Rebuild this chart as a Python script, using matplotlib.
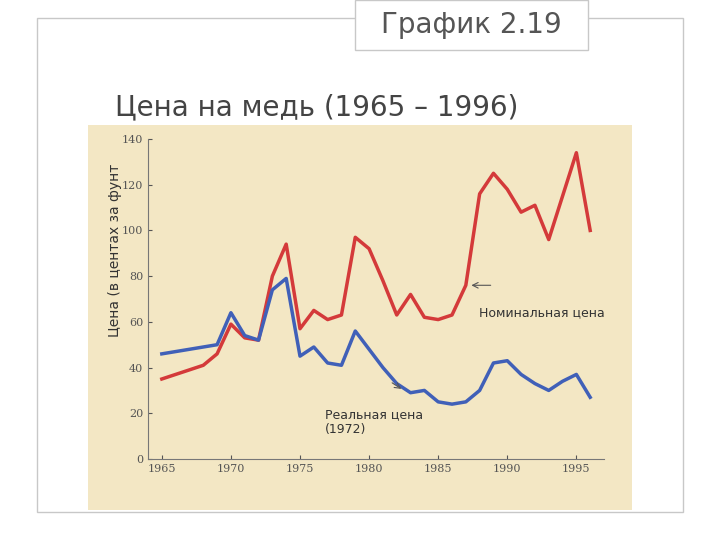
import matplotlib
matplotlib.use("Agg")
import matplotlib.pyplot as plt
from matplotlib.patches import Rectangle

years = list(range(1965, 1997))
nominal = [35, 37, 39, 41, 46, 59, 53, 52, 80, 94, 57, 65, 61, 63, 97, 92, 78, 63, 72, 62,
           61, 63, 76, 116, 125, 118, 108, 111, 96, 115, 134, 100]
real = [46, 47, 48, 49, 50, 64, 54, 52, 74, 79, 45, 49, 42, 41, 56, 48, 40, 33, 29, 30,
        25, 24, 25, 30, 42, 43, 37, 33, 30, 34, 37, 27]
xticks = [1965, 1970, 1975, 1980, 1985, 1990, 1995]
yticks = list(range(0, 141, 20))

fig = plt.figure(figsize=(7.2, 5.4), dpi=100)
fig.patch.set_facecolor("white")
fig.add_artist(Rectangle((37/720, 28/540), 646/720, 494/540, transform=fig.transFigure,
                         fill=False, edgecolor="#c8c8c8", lw=1))
fig.add_artist(Rectangle((355/720, 490/540), 233/720, 50/540, transform=fig.transFigure,
                         facecolor="white", edgecolor="#c8c8c8", lw=1))
fig.text(471/720, 515/540, "График 2.19", fontsize=20, color="#555555",
         ha="center", va="center", family="DejaVu Sans")
fig.text(115/720, 433/540, "Цена на медь (1965 – 1996)", fontsize=20, color="#444444",
         ha="left", va="center")
fig.add_artist(Rectangle((88/720, 30/540), 544/720, 385/540, transform=fig.transFigure,
                         facecolor="#f3e7c4", edgecolor="none", zorder=0))

ax = fig.add_axes([148/720, 81/540, 456/720, 320/540])
ax.set_facecolor("none")
ax.plot(years, nominal, color="#d43a3a", lw=2.5, clip_on=False)
ax.plot(years, real, color="#4060b8", lw=2.5, clip_on=False)
ax.set_xlim(1964, 1997)
ax.set_ylim(0, 140)
ax.set_xticks(xticks)
ax.set_yticks(yticks)
ax.tick_params(labelsize=8, colors="#555555", direction="in", length=3)
for lab in ax.get_xticklabels() + ax.get_yticklabels():
    lab.set_family("DejaVu Serif")
for s in ["top", "right"]:
    ax.spines[s].set_visible(False)
for s in ["left", "bottom"]:
    ax.spines[s].set_color("#777777")
fig.text(115/720, 290/540, "Цена (в центах за фунт", rotation=90, fontsize=10,
         ha="center", va="center", color="#333333")
ax.text(1992.5, 64, "Номинальная цена", fontsize=9, ha="center", va="center", color="#333333")
ax.annotate("", xy=(1987.2, 76), xytext=(1989, 76),
            arrowprops=dict(arrowstyle="->", color="#555555", lw=0.8))
ax.text(1976.8, 16, "Реальная цена\n(1972)", fontsize=9, ha="left", va="center", color="#333333")
ax.annotate("", xy=(1982.5, 30), xytext=(1981.5, 34),
            arrowprops=dict(arrowstyle="->", color="#555555", lw=0.8))
fig.savefig("out.png", dpi=100)
